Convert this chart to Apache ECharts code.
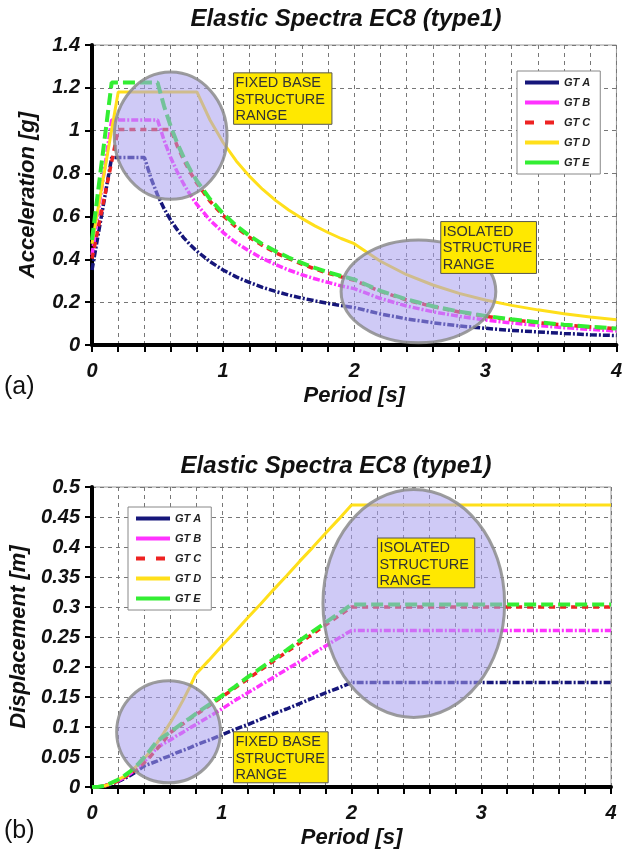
<!DOCTYPE html>
<html>
<head>
<meta charset="utf-8">
<script src="https://cdn.jsdelivr.net/npm/echarts@6/dist/echarts.min.js"></script>
<style>
  html, body { margin: 0; padding: 0; background: #fff; }
  #chart { width: 625px; height: 852px; }
</style>
</head>
<body>
<div id="chart"></div>
<script>
// Period grid shared by every ground type [s]
const periods = [0, 0.05, 0.1, 0.15, 0.2, 0.25, 0.3, 0.35, 0.4, 0.45, 0.5, 0.55, 0.6, 0.65, 0.7, 0.75, 0.8, 0.9,
  1, 1.1, 1.2, 1.3, 1.4, 1.5, 1.6, 1.7, 1.8, 1.9, 2, 2.2, 2.4, 2.6, 2.8, 3, 3.2, 3.4, 3.6, 3.8, 4];

const groundTypes = ['GT A', 'GT B', 'GT C', 'GT D', 'GT E'];

// Spectral acceleration [g]
const accA = [0.35, 0.525, 0.70, 0.875, 0.875, 0.875, 0.875, 0.875, 0.875, 0.778, 0.70, 0.636, 0.583, 0.538, 0.50, 0.467, 0.438, 0.389,
  0.35, 0.318, 0.292, 0.269, 0.25, 0.233, 0.219, 0.206, 0.194, 0.184, 0.175, 0.145, 0.122, 0.104, 0.089, 0.078, 0.068, 0.061, 0.054, 0.048, 0.044];
const accB = [0.42, 0.63, 0.84, 1.05, 1.05, 1.05, 1.05, 1.05, 1.05, 1.05, 1.05, 0.955, 0.875, 0.808, 0.75, 0.70, 0.656, 0.583,
  0.525, 0.477, 0.438, 0.404, 0.375, 0.35, 0.328, 0.309, 0.292, 0.276, 0.263, 0.217, 0.182, 0.155, 0.134, 0.117, 0.103, 0.091, 0.081, 0.073, 0.066];
const accC = [0.403, 0.553, 0.704, 0.855, 1.006, 1.006, 1.006, 1.006, 1.006, 1.006, 1.006, 1.006, 1.006, 0.929, 0.863, 0.805, 0.755, 0.671,
  0.604, 0.549, 0.503, 0.464, 0.431, 0.403, 0.377, 0.355, 0.335, 0.318, 0.302, 0.250, 0.210, 0.179, 0.154, 0.134, 0.118, 0.104, 0.093, 0.084, 0.076];
const accD = [0.473, 0.650, 0.827, 1.004, 1.181, 1.181, 1.181, 1.181, 1.181, 1.181, 1.181, 1.181, 1.181, 1.181, 1.181, 1.181, 1.181, 1.05,
  0.945, 0.859, 0.788, 0.727, 0.675, 0.63, 0.591, 0.556, 0.525, 0.497, 0.473, 0.391, 0.328, 0.280, 0.241, 0.21, 0.185, 0.164, 0.146, 0.131, 0.118];
const accE = [0.49, 0.735, 0.98, 1.225, 1.225, 1.225, 1.225, 1.225, 1.225, 1.225, 1.225, 1.114, 1.021, 0.942, 0.875, 0.817, 0.766, 0.681,
  0.613, 0.557, 0.510, 0.471, 0.438, 0.408, 0.383, 0.360, 0.340, 0.322, 0.306, 0.253, 0.213, 0.181, 0.156, 0.136, 0.120, 0.106, 0.095, 0.085, 0.077];

// Spectral displacement [m]
const dispA = [0, 0.0003, 0.002, 0.005, 0.009, 0.014, 0.020, 0.027, 0.035, 0.039, 0.043, 0.048, 0.052, 0.057, 0.061, 0.065, 0.070, 0.078,
  0.087, 0.096, 0.104, 0.113, 0.122, 0.130, 0.139, 0.148, 0.157, 0.165, 0.174, 0.174, 0.174, 0.174, 0.174, 0.174, 0.174, 0.174, 0.174, 0.174, 0.174];
const dispB = [0, 0.0004, 0.002, 0.006, 0.010, 0.016, 0.023, 0.032, 0.042, 0.053, 0.065, 0.072, 0.078, 0.085, 0.091, 0.098, 0.104, 0.117,
  0.130, 0.144, 0.157, 0.170, 0.183, 0.196, 0.209, 0.222, 0.235, 0.248, 0.261, 0.261, 0.261, 0.261, 0.261, 0.261, 0.261, 0.261, 0.261, 0.261, 0.261];
const dispC = [0, 0.0003, 0.002, 0.005, 0.010, 0.016, 0.023, 0.031, 0.040, 0.051, 0.063, 0.076, 0.090, 0.098, 0.105, 0.113, 0.120, 0.135,
  0.150, 0.165, 0.180, 0.195, 0.210, 0.225, 0.240, 0.255, 0.270, 0.285, 0.300, 0.300, 0.300, 0.300, 0.300, 0.300, 0.300, 0.300, 0.300, 0.300, 0.300];
const dispD = [0, 0.0004, 0.002, 0.006, 0.012, 0.018, 0.026, 0.036, 0.047, 0.059, 0.073, 0.089, 0.106, 0.124, 0.144, 0.165, 0.188, 0.211,
  0.235, 0.258, 0.282, 0.305, 0.329, 0.352, 0.376, 0.399, 0.423, 0.446, 0.470, 0.470, 0.470, 0.470, 0.470, 0.470, 0.470, 0.470, 0.470, 0.470, 0.470];
const dispE = [0, 0.0005, 0.002, 0.007, 0.012, 0.019, 0.027, 0.037, 0.049, 0.062, 0.076, 0.084, 0.091, 0.099, 0.107, 0.114, 0.122, 0.137,
  0.152, 0.167, 0.183, 0.198, 0.213, 0.228, 0.244, 0.259, 0.274, 0.289, 0.304, 0.304, 0.304, 0.304, 0.304, 0.304, 0.304, 0.304, 0.304, 0.304, 0.304];

const accSeries = [accA, accB, accC, accD, accE];
const dispSeries = [dispA, dispB, dispC, dispD, dispE];

// Line appearance per ground type
const lineStyles = [
  { color: '#16167a', width: 3.5, type: [7, 2, 2, 2] },
  { color: '#ff33ff', width: 3.5, type: [7, 2, 2, 2] },
  { color: '#ee2222', width: 3.5, type: [6, 5] },
  { color: '#ffdf1a', width: 3, type: 'solid' },
  { color: '#33ee33', width: 4, type: [12, 5] }
];

const FONT = 'Arial, "Liberation Sans", sans-serif';
const isInt = v => Math.abs(v - Math.round(v)) < 1e-6;

function xAxisFor(gridIndex) {
  return {
    type: 'value', gridIndex, min: 0, max: 4, interval: 0.2,
    name: 'Period [s]', nameLocation: 'middle', nameGap: 40,
    nameTextStyle: { fontFamily: FONT, fontSize: 22, fontWeight: 'bold', fontStyle: 'italic', color: '#111' },
    axisLine: { show: true, onZero: false, lineStyle: { color: '#000', width: 4 } },
    axisTick: { show: true, inside: false, length: 7, lineStyle: { color: '#000', width: 2 } },
    axisLabel: {
      margin: 16, fontFamily: FONT, fontSize: 20, fontWeight: 'bold', fontStyle: 'italic', color: '#111',
      formatter: v => (isInt(v) ? String(Math.round(v)) : '')
    },
    splitLine: { show: true, lineStyle: { color: '#777', width: 1, type: [4, 4] } }
  };
}

function yAxisFor(gridIndex, max, interval, name) {
  return {
    type: 'value', gridIndex, min: 0, max, interval,
    name, nameLocation: 'middle', nameGap: 53,
    nameTextStyle: { fontFamily: FONT, fontSize: 22, fontWeight: 'bold', fontStyle: 'italic', color: '#111' },
    axisLine: { show: true, onZero: false, lineStyle: { color: '#000', width: 4 } },
    axisTick: { show: true, inside: false, length: 7, lineStyle: { color: '#000', width: 2 } },
    axisLabel: { margin: 12, fontFamily: FONT, fontSize: 20, fontWeight: 'bold', fontStyle: 'italic', color: '#111' },
    splitLine: { show: true, lineStyle: { color: '#777', width: 1, type: [4, 4] } }
  };
}

function legendFor(left, top) {
  return {
    left, top, orient: 'vertical',
    itemWidth: 34, itemHeight: 10, itemGap: 9,
    padding: [6, 10, 6, 6],
    backgroundColor: '#fff', borderColor: '#888', borderWidth: 1,
    textStyle: { fontFamily: FONT, fontSize: 11, fontWeight: 'bold', fontStyle: 'italic', color: '#222' },
    data: groundTypes.map((n, i) => ({
      name: n,
      itemStyle: { opacity: 0 },
      lineStyle: i === 2 ? { type: [9, 11], width: 4 } : { type: 'solid', width: 4 }
    }))
  };
}

const series = [];
groundTypes.forEach((name, i) => {
  series.push({
    name, type: 'line', xAxisIndex: 0, yAxisIndex: 0, symbol: 'none', z: 3 + i,
    lineStyle: lineStyles[i], itemStyle: { color: lineStyles[i].color },
    data: periods.map((t, k) => [t, accSeries[i][k]])
  });
});
groundTypes.forEach((name, i) => {
  series.push({
    name, type: 'line', xAxisIndex: 1, yAxisIndex: 1, symbol: 'none', z: 3 + i,
    lineStyle: lineStyles[i], itemStyle: { color: lineStyles[i].color },
    data: periods.map((t, k) => [t, dispSeries[i][k]])
  });
});

const chart = echarts.init(document.getElementById('chart'), null, { renderer: 'canvas' });
chart.setOption({
  animation: false,
  backgroundColor: '#fff',
  title: [
    { text: 'Elastic Spectra EC8 (type1)', left: 341, top: 2, textAlign: 'center',
      textStyle: { fontFamily: FONT, fontSize: 24, fontWeight: 'bold', fontStyle: 'italic', color: '#111' } },
    { text: 'Elastic Spectra EC8 (type1)', left: 331, top: 449, textAlign: 'center',
      textStyle: { fontFamily: FONT, fontSize: 24, fontWeight: 'bold', fontStyle: 'italic', color: '#111' } }
  ],
  grid: [
    { left: 92, top: 45, width: 528, height: 300, show: true, borderColor: '#999', borderWidth: 1, backgroundColor: '#fff' },
    { left: 92, top: 487, width: 519, height: 300, show: true, borderColor: '#999', borderWidth: 1, backgroundColor: '#fff' }
  ],
  xAxis: [xAxisFor(0), xAxisFor(1)],
  yAxis: [
    yAxisFor(0, 1.4, 0.2, 'Acceleration [g]'),
    yAxisFor(1, 0.5, 0.05, 'Displacement [m]')
  ],
  legend: [legendFor(517, 71), legendFor(128, 507)],
  series
});

// Range highlights and captions, positioned in data coordinates of each grid
function ellipse(gridIndex, cx, cy, rxData, ryData) {
  const c = chart.convertToPixel({ gridIndex }, [cx, cy]);
  const e = chart.convertToPixel({ gridIndex }, [cx + rxData, cy + ryData]);
  return {
    type: 'ellipse', z: 50,
    shape: { cx: c[0], cy: c[1], rx: Math.abs(e[0] - c[0]), ry: Math.abs(e[1] - c[1]) },
    style: { fill: 'rgba(168,158,238,0.55)', stroke: 'rgba(140,140,140,0.85)', lineWidth: 3 }
  };
}
function caption(gridIndex, x0, y0, x1, y1, text) {
  const p0 = chart.convertToPixel({ gridIndex }, [x0, y0]);
  const p1 = chart.convertToPixel({ gridIndex }, [x1, y1]);
  return {
    type: 'group', z: 60,
    children: [
      { type: 'rect', z: 60, shape: { x: p0[0], y: p0[1], width: p1[0] - p0[0], height: p1[1] - p0[1] },
        style: { fill: '#ffe800', stroke: '#555', lineWidth: 1 } },
      { type: 'text', z: 61, x: p0[0] + 2, y: p0[1] + 2,
        style: { text, fontFamily: FONT, fontSize: 14.5, lineHeight: 16.5, fill: '#333' } }
    ]
  };
}
const note = 'FIXED BASE\nSTRUCTURE\nRANGE';
const noteIso = 'ISOLATED\nSTRUCTURE\nRANGE';

chart.setOption({
  graphic: [
    ellipse(0, 0.6, 0.977, 0.43, 0.297),
    ellipse(0, 2.49, 0.25, 0.59, 0.24),
    ellipse(1, 0.59, 0.092, 0.40, 0.085),
    ellipse(1, 2.48, 0.306, 0.70, 0.19),
    caption(0, 1.08, 1.27, 1.83, 1.03, note),
    caption(0, 2.66, 0.576, 3.39, 0.334, noteIso),
    caption(1, 1.09, 0.092, 1.82, 0.007, note),
    caption(1, 2.2, 0.415, 2.95, 0.332, noteIso),
    { type: 'text', left: 4, top: 375, z: 70,
      style: { text: '(a)', fontFamily: FONT, fontSize: 25, fill: '#111' } },
    { type: 'text', left: 4, top: 819, z: 70,
      style: { text: '(b)', fontFamily: FONT, fontSize: 25, fill: '#111' } }
  ]
});
</script>
</body>
</html>
